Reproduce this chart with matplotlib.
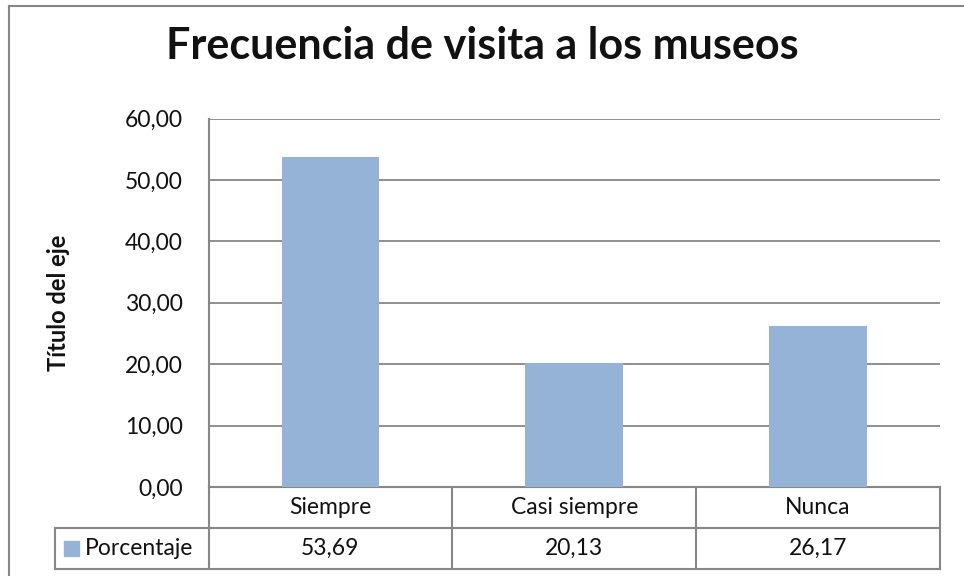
import matplotlib
matplotlib.use("Agg")
import matplotlib.pyplot as plt
from matplotlib.patches import Rectangle
from matplotlib.lines import Line2D

categories = ["Siempre", "Casi siempre", "Nunca"]
values = [53.69, 20.13, 26.17]
series_name = "Porcentaje"
title = "Frecuencia de visita a los museos"
ylabel = "Título del eje"
yticks = [0, 10, 20, 30, 40, 50, 60]

plt.rcParams['font.family'] = ['Lato', 'DejaVu Sans']

W, H = 964, 576
fig = plt.figure(figsize=(W / 100, H / 100), dpi=100)
fig.patch.set_facecolor("white")

grid_c = "#878787"
bar_c = "#95B3D7"
txt_c = "#111111"
fs = 16.5

# outer chart border (cropped at right/bottom)
fig.add_artist(Line2D([9 / W, 9 / W], [0, 1 - 6 / H], transform=fig.transFigure, color=grid_c, lw=1.5))
fig.add_artist(Line2D([9 / W, 1], [1 - 6 / H, 1 - 6 / H], transform=fig.transFigure, color=grid_c, lw=1.5))

left, right, top, bottom = 208.5, 940, 118.5, 487
ax = fig.add_axes([left / W, 1 - bottom / H, (right - left) / W, (bottom - top) / H])
x = list(range(len(categories)))
ax.bar(x, values, width=0.4, color=bar_c, zorder=3)
ax.set_xlim(-0.5, len(categories) - 0.5)
ax.set_ylim(yticks[0], yticks[-1])
ax.set_yticks(yticks)
ax.set_yticklabels([f"{v:.2f}".replace(".", ",") for v in yticks], fontsize=fs, color=txt_c)
ax.tick_params(axis="y", length=0, pad=18.4)
ax.set_xticks([])
ax.yaxis.grid(True, color=grid_c, lw=1.3, zorder=0)
for s in ["top", "right", "bottom"]:
    ax.spines[s].set_visible(False)
ax.spines["left"].set_color(grid_c)
ax.spines["left"].set_linewidth(1.5)
ax.set_ylabel(ylabel, fontsize=17, fontweight="bold", color=txt_c)
ax.yaxis.set_label_coords((70 - left) / (right - left), 0.5)

fig.text(0.5, 1 - 46 / H, title, ha="center", va="center", fontsize=31, fontweight="bold", color=txt_c)

# data table below the axes
ah = bottom - top
aw = right - left
r1 = -(528 - bottom) / ah
r2 = -(569 - bottom) / ah
leg_left = (55 - left) / aw
tr = ax.transAxes
kw = dict(transform=tr, color=grid_c, lw=1.5, clip_on=False)
ax.add_line(Line2D([0, 1], [0, 0], **kw))
ax.add_line(Line2D([leg_left, 1], [r1, r1], **kw))
ax.add_line(Line2D([leg_left, 1], [r2, r2], **kw))
ax.add_line(Line2D([leg_left, leg_left], [r1, r2], **kw))
n = len(categories)
for i in range(n + 1):
    xx = i / n
    ax.add_line(Line2D([xx, xx], [0, r2], **kw))
for i, (c, v) in enumerate(zip(categories, values)):
    cx = (i + 0.5) / n
    ax.text(cx, r1 / 2, c, transform=tr, ha="center", va="center", fontsize=fs, color=txt_c)
    ax.text(cx, (r1 + r2) / 2, f"{v:.2f}".replace(".", ","), transform=tr, ha="center", va="center",
            fontsize=fs, color=txt_c)
# legend key + series name
sq = 15
ax.add_patch(Rectangle(((64 - left) / aw, (r1 + r2) / 2 - (sq / 2) / ah), sq / aw, sq / ah,
                       transform=tr, color=bar_c, clip_on=False))
ax.text((85 - left) / aw, (r1 + r2) / 2, series_name, transform=tr, ha="left", va="center",
        fontsize=fs, color=txt_c)

fig.savefig("out.png", dpi=100, facecolor="white")
